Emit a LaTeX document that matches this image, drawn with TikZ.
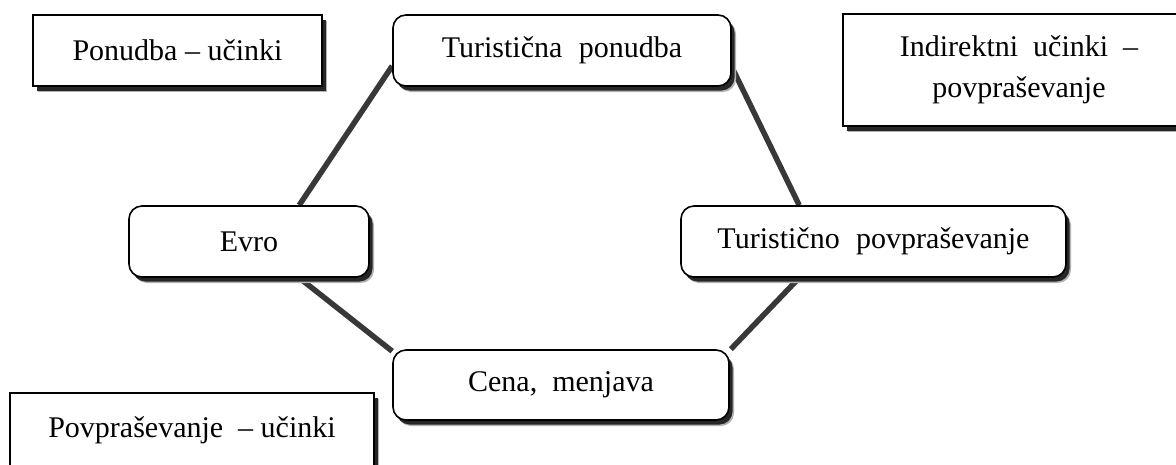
\documentclass[tikz,border=0pt]{standalone}
\usepackage{fontspec}
\setmainfont{Liberation Serif}
\usetikzlibrary{shadows,calc,backgrounds}
\tikzset{
  shd/.style={drop shadow={shadow xshift=5pt, shadow yshift=-6pt, fill=black!30, opacity=1},
              drop shadow={shadow xshift=3.5pt, shadow yshift=-4.5pt, fill=black!85, opacity=1}},
  plainbox/.style={shd, draw=black, line width=1.6pt, fill=white, inner sep=0pt,
                   font=\fontsize{30}{41}\selectfont, align=center},
  roundbox/.style={plainbox, rounded corners=13pt},
  link/.style={line width=5.5pt, draw=black!78}
}
\begin{document}
\begin{tikzpicture}[x=1pt,y=-1pt]
\useasboundingbox (0,0) rectangle (1176,464);
\clip (0,0) rectangle (1176,464);
\node[plainbox, minimum width=289pt, minimum height=71pt] (pu) at (177.5,50.5) {Ponudba – učinki};
\node[roundbox, minimum width=338pt, minimum height=71pt] (tp) at (562,50.5) {Turistična\hspace{0.55em}ponudba};
\node[plainbox, minimum width=352pt, minimum height=112pt] (ind) at (1019,70) {Indirektni\hspace{0.5em}učinki\hspace{0.5em}–\\povpraševanje};
\node[roundbox, minimum width=240pt, minimum height=71pt] (evro) at (249,241.5) {Evro};
\node[roundbox, minimum width=385pt, minimum height=71pt] (tpov) at (873.5,241.5) {Turistično\hspace{0.55em}povpraševanje};
\node[roundbox, minimum width=336pt, minimum height=70pt] (cena) at (561,385) {Cena,\hspace{0.5em}menjava};
\node[plainbox, minimum width=364pt, minimum height=75pt] (pov) at (192,430.5) {Povpraševanje\hspace{0.5em}– učinki};
\begin{scope}[on background layer]
\draw[link] ($(tp.west)+(0,15.5)$) -- ($(evro.north west)+(171,0)$);
\draw[link] ($(tp.east)+(0,16.5)$) -- ($(tpov.north west)+(119,0)$);
\draw[link] ($(evro.south west)+(171,0)$) -- ($(cena.north west)+(0,2)$);
\draw[link] ($(cena.north east)+(1,0)$) -- ($(tpov.south west)+(119,0)$);
\end{scope}
\end{tikzpicture}
\end{document}
